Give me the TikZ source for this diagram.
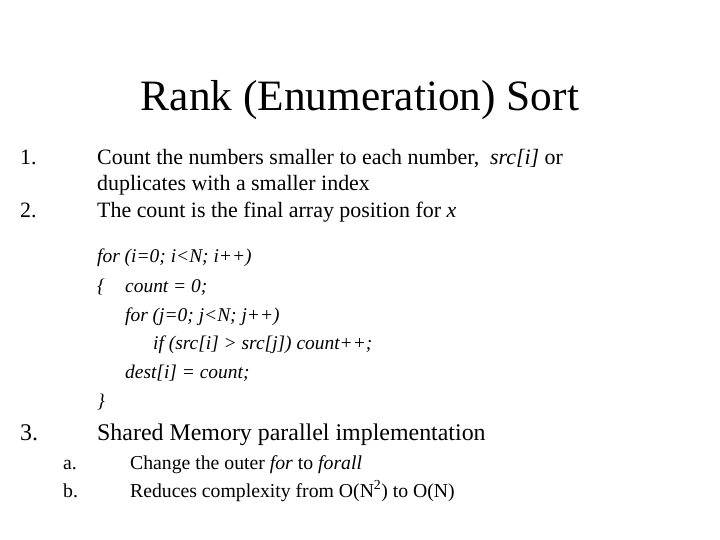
\documentclass[tikz,border=0pt]{standalone}
\usepackage{fontspec}
\setmainfont{Liberation Serif}
\begin{document}
\begin{tikzpicture}[x=1bp,y=-1bp,
  txt/.style={anchor=base west,inner sep=0,font=\fontsize{22}{26}\selectfont},
  big/.style={anchor=base west,inner sep=0,font=\fontsize{24}{28}\selectfont},
  code/.style={anchor=base west,inner sep=0,font=\fontsize{19.5}{22}\selectfont\itshape},
  sub/.style={anchor=base west,inner sep=0,font=\fontsize{19.8}{22}\selectfont}]
\useasboundingbox (0,0) rectangle (720,540);
% title
\node (title) [anchor=base,inner sep=0,font=\fontsize{43.5}{50}\selectfont] at (360,111) {Rank (Enumeration) Sort};
% list
\node (n1) [txt] at (20,165) {1.};
\node (l1) [txt] at (97,165) {Count the numbers smaller to each number,\ \ \textit{src[i]} or};
\node (l1b) [txt] at (97,191) {duplicates with a smaller index};
\node (n2) [txt] at (20,218) {2.};
\node (l2) [txt] at (97,218) {The count is the final array position for \textit{x}};
% code
\node (c1) [code] at (97,263) {for (i=0; i<N; i++)};
\node (c2) [code] at (97,292) {\{};
\node (c2b) [code] at (125,292) {count = 0;};
\node (c3) [code] at (125,321) {for (j=0; j<N; j++)};
\node (c4) [code] at (153,349) {if (src[i] > src[j]) count++;};
\node (c5) [code] at (125,378) {dest[i] = count;};
\node (c6) [code] at (97,407) {\}};
% item 3
\node (n3) [big] at (20,440) {3.};
\node (l3) [big] at (97,440) {Shared Memory parallel implementation};
\node (na) [sub] at (63,469) {a.};
\node (la) [sub] at (130,469) {Change the outer \textit{for} to \textit{forall}};
\node (nb) [sub] at (63,497) {b.};
\node (lb) [sub] at (130,497) {Reduces complexity from O(N\textsuperscript{2}) to O(N)};
\end{tikzpicture}
\end{document}
